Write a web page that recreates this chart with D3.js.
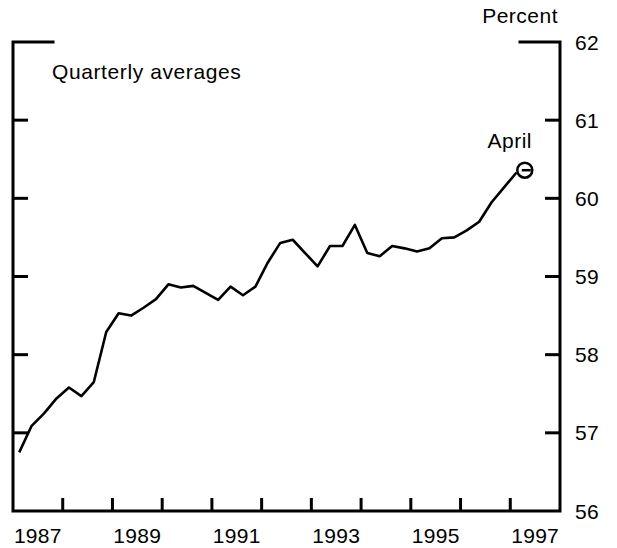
<!DOCTYPE html>
<html>
<head>
<meta charset="utf-8">
<script src="https://cdn.jsdelivr.net/npm/d3@7"></script>
<style>
  body { margin: 0; background: #fff; }
  text { font-family: "Liberation Sans", Arial, Helvetica, sans-serif; fill: #000; }
</style>
</head>
<body>
<svg id="chart"></svg>
<script>
// quarterly averages, 1987Q1 .. 1997Q1 (percent)
const quarterValues = [
  56.75, 57.09, 57.25, 57.44,
  57.58, 57.47, 57.65, 58.29,
  58.53, 58.50, 58.60, 58.71,
  58.90, 58.86, 58.88, 58.79,
  58.70, 58.87, 58.76, 58.87,
  59.18, 59.43, 59.47, 59.30,
  59.13, 59.39, 59.39, 59.66,
  59.30, 59.26, 59.39, 59.36,
  59.32, 59.36, 59.49, 59.50,
  59.59, 59.70, 59.95, 60.14,
  60.33
];
const startYear = 1987;
const aprilPoint = { t: 1997 + 3.5 / 12, v: 60.36 };
const yearLabels = [1987, 1989, 1991, 1993, 1995, 1997];
const yTicks = [56, 57, 58, 59, 60, 61, 62];

const width = 617, height = 548;
const margin = { top: 42, right: 57, bottom: 37, left: 13 };
const fontSize = "21px";

const svg = d3.select("#chart").attr("width", width).attr("height", height);

const x = d3.scaleLinear().domain([1987, 1998]).range([margin.left, width - margin.right]);
const y = d3.scaleLinear().domain([56, 62]).range([height - margin.bottom, margin.top]);

const data = quarterValues.map((v, i) => ({ t: startYear + (i + 0.5) / 4, v: v }));

const x0 = x.range()[0], x1 = x.range()[1];
const yb = y(56), yt = y(62);

// frame
const frame = svg.append("g").attr("stroke", "#000").attr("stroke-width", 3).attr("fill", "none");
frame.append("path").attr("d", `M${x0 + 40},${yt}H${x0}V${yb}H${x1}V${yt}H${x1 - 40}`)
  .attr("stroke-linejoin", "miter").attr("stroke-linecap", "square");

// y ticks on both sides, inward
yTicks.filter(d => d > 56 && d < 62).forEach(d => {
  frame.append("line").attr("x1", x0).attr("x2", x0 + 15).attr("y1", y(d)).attr("y2", y(d));
  frame.append("line").attr("x1", x1).attr("x2", x1 - 15).attr("y1", y(d)).attr("y2", y(d));
});

// x ticks at year boundaries
d3.range(1988, 1998).forEach(yr => {
  frame.append("line").attr("x1", x(yr)).attr("x2", x(yr)).attr("y1", yb).attr("y2", yb - 13);
});

// y labels on right
svg.append("g").selectAll("text").data(yTicks).join("text")
  .attr("x", x1 + 15).attr("y", d => y(d)).attr("dy", "0.36em")
  .style("font-size", fontSize).style("letter-spacing", "0.3px").text(d => d);

// year labels centred in year interval
svg.append("g").selectAll("text").data(yearLabels).join("text")
  .attr("x", d => x(d + 0.5)).attr("y", 543).attr("text-anchor", "middle")
  .style("font-size", fontSize).style("letter-spacing", "0.3px").text(d => d);

svg.append("text").attr("x", x1 - 2).attr("y", 23).attr("text-anchor", "end")
  .style("font-size", fontSize).style("letter-spacing", "0.5px").text("Percent");

svg.append("text").attr("x", 52).attr("y", 79)
  .style("font-size", fontSize).style("letter-spacing", "0.6px").text("Quarterly averages");

// data line
const line = d3.line().x(d => x(d.t)).y(d => y(d.v));
svg.append("path").datum(data).attr("d", line)
  .attr("fill", "none").attr("stroke", "#000").attr("stroke-width", 2.6)
  .attr("stroke-linejoin", "round");

// April marker
const ax = x(aprilPoint.t), ay = y(aprilPoint.v);
svg.append("circle").attr("cx", ax).attr("cy", ay).attr("r", 7.5)
  .attr("fill", "#fff").attr("stroke", "#000").attr("stroke-width", 2.5);
svg.append("line").attr("x1", ax - 3).attr("x2", ax + 6).attr("y1", ay).attr("y2", ay)
  .attr("stroke", "#000").attr("stroke-width", 2.5);
svg.append("text").attr("x", ax - 15).attr("y", 148).attr("text-anchor", "middle")
  .style("font-size", fontSize).style("letter-spacing", "0.5px").text("April");
</script>
</body>
</html>
